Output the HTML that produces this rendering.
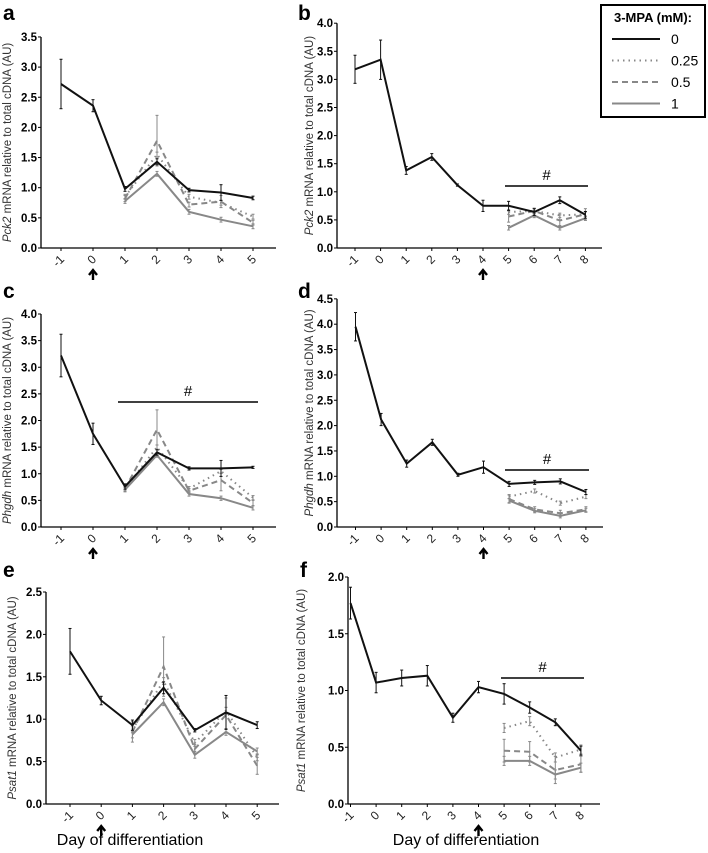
<!DOCTYPE html>
<html><head><meta charset="utf-8">
<style>
body{margin:0;background:#fff;}
svg{display:block;font-family:"Liberation Sans",sans-serif;}
</style></head>
<body>
<svg id="fig" width="708" height="853" viewBox="0 0 708 853"></svg>
<script>
const seriesNames = ["0","0.25","0.5","1"];
// Panel a
const aDays = [-1,0,1,2,3,4,5];
const a0 = [2.72,2.36,0.98,1.43,0.96,0.92,0.83];
const a1 = [null,null,0.85,1.55,0.85,0.75,0.52];
const a2 = [null,null,0.82,1.78,0.72,0.77,0.42];
const a3 = [null,null,0.78,1.23,0.60,0.47,0.36];
const aErr0 = [0.41,0.1,0.04,0.05,0.03,0.13,0.03];
const aErr2 = [0,0,0.05,0.42,0.04,0.1,0.04];
// Panel b
const bDays = [-1,0,1,2,3,4,5,6,7,8];
const b0 = [3.18,3.35,1.38,1.62,1.12,0.75,0.75,0.64,0.85,0.59];
const b1 = [null,null,null,null,null,null,0.64,0.66,0.58,0.6];
const b2 = [null,null,null,null,null,null,0.56,0.66,0.49,0.6];
const b3 = [null,null,null,null,null,null,0.36,0.58,0.36,0.53];
const bErr0 = [0.25,0.35,0.07,0.06,0.02,0.1,0.08,0.06,0.06,0.06];
const bErr2 = [0,0,0,0,0,0,0.1,0.05,0.1,0.1];
// Panel c
const cDays = [-1,0,1,2,3,4,5];
const c0 = [3.22,1.75,0.76,1.4,1.1,1.1,1.12];
const c1 = [null,null,0.72,1.5,0.72,1.05,0.55];
const c2 = [null,null,0.72,1.83,0.68,0.88,0.45];
const c3 = [null,null,0.70,1.35,0.62,0.54,0.36];
const cErr0 = [0.4,0.2,0.05,0.05,0.03,0.15,0.02];
const cErr2 = [0,0,0.05,0.37,0.04,0.2,0.05];
// Panel d
const dDays = [-1,0,1,2,3,4,5,6,7,8];
const d0 = [3.95,2.12,1.25,1.67,1.03,1.18,0.85,0.88,0.9,0.69];
const d1 = [null,null,null,null,null,null,0.6,0.71,0.47,0.6];
const d2 = [null,null,null,null,null,null,0.55,0.35,0.27,0.35];
const d3 = [null,null,null,null,null,null,0.52,0.32,0.22,0.33];
const dErr0 = [0.28,0.12,0.07,0.06,0.03,0.12,0.05,0.04,0.05,0.05];
const dErr2 = [0,0,0,0,0,0,0.08,0.05,0.06,0.05];
// Panel e
const eDays = [-1,0,1,2,3,4,5];
const e0 = [1.8,1.22,0.93,1.37,0.87,1.08,0.93];
const e1 = [null,null,0.88,1.45,0.72,1.1,0.55];
const e2 = [null,null,0.85,1.62,0.65,1.05,0.45];
const e3 = [null,null,0.82,1.2,0.58,0.85,0.62];
const eErr0 = [0.27,0.05,0.06,0.07,0.02,0.2,0.04];
const eErr2 = [0,0,0.12,0.35,0.05,0.2,0.1];
// Panel f
const fDays = [-1,0,1,2,3,4,5,6,7,8];
const f0 = [1.77,1.07,1.11,1.13,0.76,1.03,0.97,0.85,0.72,0.47];
const f1 = [null,null,null,null,null,null,0.67,0.73,0.41,0.48];
const f2 = [null,null,null,null,null,null,0.47,0.46,0.30,0.35];
const f3 = [null,null,null,null,null,null,0.38,0.38,0.26,0.32];
const fErr0 = [0.14,0.09,0.07,0.09,0.04,0.05,0.09,0.05,0.03,0.04];
const fErr2 = [0,0,0,0,0,0,0.1,0.09,0.12,0.07];

const aTicks=["0.0","0.5","1.0","1.5","2.0","2.5","3.0","3.5"];
const bTicks=["0.0","0.5","1.0","1.5","2.0","2.5","3.0","3.5","4.0"];
const cTicks=bTicks;
const dTicks=["0.0","0.5","1.0","1.5","2.0","2.5","3.0","3.5","4.0","4.5"];
const eTicks=["0.0","0.5","1.0","1.5","2.0","2.5"];
const fTicks=["0.0","0.5","1.0","1.5","2.0"];

const NS="http://www.w3.org/2000/svg";
const svg=document.getElementById('fig');
function mk(tag,attrs,parent,text){const e=document.createElementNS(NS,tag);for(const k in attrs)e.setAttribute(k,attrs[k]);if(text!==undefined)e.textContent=text;(parent||svg).appendChild(e);return e;}

const styles=[
 {stroke:"#111",dash:"",w:2},
 {stroke:"#888",dash:"1.5 4",w:2},
 {stroke:"#888",dash:"6 4",w:2},
 {stroke:"#888",dash:"",w:2}
];

function panel(cfg){
  const g=mk('g',{});
  
  
  const X=d=>cfg.x0+(d-cfg.days[0])*cfg.dx;
  const Y=v=>cfg.y0-v*cfg.py;
  const lt=mk('text',{x:cfg.lx,y:cfg.ly,'font-size':21,'font-weight':'bold',fill:'#000'},g,cfg.letter);
  
  
  const ymax=(cfg.ticks.length-1)*0.5;
  mk('line',{x1:cfg.ax,y1:cfg.y0,x2:cfg.ax,y2:Y(ymax),stroke:'#000','stroke-width':1.3},g);
  mk('line',{x1:cfg.ax,y1:cfg.y0,x2:cfg.axEnd,y2:cfg.y0,stroke:'#000','stroke-width':1.3},g);
  cfg.ticks.forEach((t,i)=>{
    const y=Y(i*0.5);
    mk('line',{x1:cfg.ax-3,y1:y,x2:cfg.ax,y2:y,stroke:'#000'},g);
    const tx=mk('text',{x:cfg.ax-4,y:y+4,'font-size':11.5,'font-weight':'bold','text-anchor':'end'},g,t);
    
    
  });
  cfg.days.forEach(d=>{
    const x=X(d);
    mk('line',{x1:x,y1:cfg.y0,x2:x,y2:cfg.y0+3,stroke:'#000'},g);
    const tx=mk('text',{x:x+4,y:cfg.y0+12,'font-size':12,'text-anchor':'end',transform:`rotate(-45 ${x+4} ${cfg.y0+12})`,fill:'#222'},g,String(d));
    
    
  });
  const tcx=cfg.tx, tcy=(cfg.y0+Y(ymax))/2;
  const yt=mk('text',{x:tcx,y:tcy,'font-size':11.5,'text-anchor':'middle',fill:'#333',transform:`rotate(-90 ${tcx} ${tcy})`},g);
  
  
  mk('tspan',{'font-style':'italic'},yt,cfg.gene);
  mk('tspan',{},yt,' mRNA relative to total cDNA (AU)');
  const axx=X(cfg.arrowDay), ay=cfg.y0+22;
  const ar=mk('path',{d:`M${axx} ${ay+10} L${axx} ${ay+2} M${axx-4} ${ay+5} L${axx} ${ay} L${axx+4} ${ay+5}`,stroke:'#000','stroke-width':2.4,fill:'none'},g);
  
  
  if(cfg.hash){
    mk('line',{x1:cfg.hash[0],y1:cfg.hash[2],x2:cfg.hash[1],y2:cfg.hash[2],stroke:'#000','stroke-width':1.5},g);
    const h=mk('text',{x:(cfg.hash[0]+cfg.hash[1])/2,y:cfg.hash[2]-6,'font-size':15,'text-anchor':'middle'},g,'#');
    
    
  }
  [3,2,1,0].forEach(si=>{
    const vals=cfg.series[si], st=styles[si];
    const err = si===0?cfg.err0:(si===2?cfg.err2:null);
    let pts=[];
    vals.forEach((v,i)=>{ if(v!==null) pts.push([X(cfg.days[i]),Y(v),i]); });
    pts.forEach(p=>{
      const e = err?err[p[2]]:0.04;
      if(e>0){
        mk('line',{x1:p[0],y1:Y(vals[p[2]]-e),x2:p[0],y2:Y(vals[p[2]]+e),stroke:st.stroke,'stroke-width':1},g);
        mk('line',{x1:p[0]-1.5,y1:Y(vals[p[2]]-e),x2:p[0]+1.5,y2:Y(vals[p[2]]-e),stroke:st.stroke,'stroke-width':1},g);
        mk('line',{x1:p[0]-1.5,y1:Y(vals[p[2]]+e),x2:p[0]+1.5,y2:Y(vals[p[2]]+e),stroke:st.stroke,'stroke-width':1},g);
      }
    });
    const pl=mk('polyline',{points:pts.map(p=>p[0].toFixed(1)+','+p[1].toFixed(1)).join(' '),fill:'none',stroke:st.stroke,'stroke-width':st.w,'stroke-dasharray':st.dash},g);
    
    
  });
  if(cfg.xlabel){
    const xl=mk('text',{x:cfg.xlabel[0],y:cfg.xlabel[1],'font-size':16,'text-anchor':'middle'},g,'Day of differentiation');
    
    
  }
}

panel({letter:'a',lx:3,ly:20,days:aDays,x0:61,dx:32,y0:248,py:60.3,ax:41,axEnd:276,ticks:aTicks,tx:11,gene:'Pck2',arrowDay:0,series:[a0,a1,a2,a3],err0:aErr0,err2:aErr2});
panel({letter:'b',lx:298,ly:20,days:bDays,x0:355,dx:25.6,y0:248,py:56.2,ax:337,axEnd:602,ticks:bTicks,tx:313,gene:'Pck2',arrowDay:4,series:[b0,b1,b2,b3],err0:bErr0,err2:bErr2,hash:[505,588,186]});
panel({letter:'c',lx:3,ly:298,days:cDays,x0:61,dx:32,y0:527,py:53.25,ax:41,axEnd:276,ticks:cTicks,tx:11,gene:'Phgdh',arrowDay:0,series:[c0,c1,c2,c3],err0:cErr0,err2:cErr2,hash:[118,258,402]});
panel({letter:'d',lx:298,ly:298,days:dDays,x0:355.5,dx:25.6,y0:527,py:50.7,ax:337,axEnd:603,ticks:dTicks,tx:313,gene:'Phgdh',arrowDay:4,series:[d0,d1,d2,d3],err0:dErr0,err2:dErr2,hash:[505,589,470]});
panel({letter:'e',lx:3,ly:577,days:eDays,x0:70,dx:31.2,y0:804,py:84.8,ax:46,axEnd:279,ticks:eTicks,tx:16,gene:'Psat1',arrowDay:0,series:[e0,e1,e2,e3],err0:eErr0,err2:eErr2,xlabel:[130,845]});
panel({letter:'f',lx:300,ly:577,days:fDays,x0:350.5,dx:25.6,y0:804,py:113.5,ax:348,axEnd:600,ticks:fTicks,tx:305,gene:'Psat1',arrowDay:4,series:[f0,f1,f2,f3],err0:fErr0,err2:fErr2,hash:[501,584,678],xlabel:[466,845]});

const lg=mk('g',{});


mk('rect',{x:601,y:5,width:104,height:112,fill:'#fff',stroke:'#000','stroke-width':2},lg);
const lt=mk('text',{x:653,y:22,'font-size':13,'font-weight':'bold','text-anchor':'middle'},lg,'3-MPA (mM):');


seriesNames.forEach((n,i)=>{
  const y=39+i*21.5, st=styles[i];
  const e=mk('g',{},lg);
  
  
  mk('line',{x1:612,y1:y,x2:660,y2:y,stroke:st.stroke,'stroke-width':2,'stroke-dasharray':st.dash},e);
  mk('text',{x:671,y:y+5,'font-size':14},e,n);
});
</script>
</body></html>
